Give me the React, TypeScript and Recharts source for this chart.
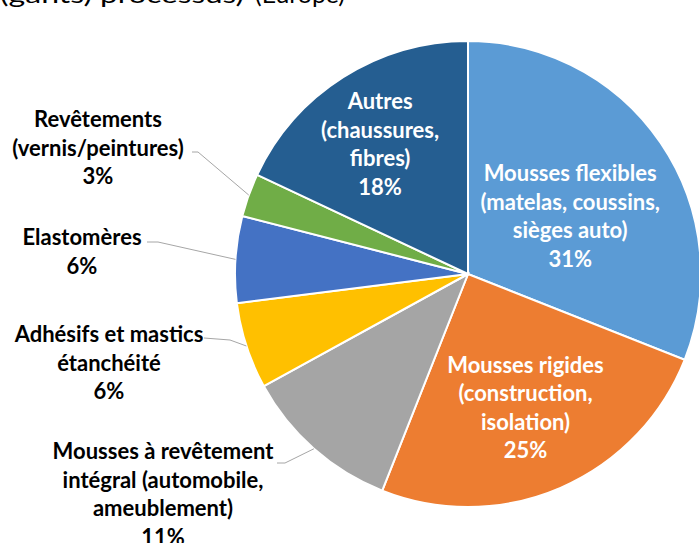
import React from 'react';
import { PieChart, Pie, Cell } from 'recharts';

const values = [31, 25, 11, 6, 6, 3, 18];
const labelLines = [
  ['Mousses flexibles', '(matelas, coussins,', 'sièges auto)'],
  ['Mousses rigides', '(construction,', 'isolation)'],
  ['Mousses à revêtement', 'intégral (automobile,', 'ameublement)'],
  ['Adhésifs et mastics', 'étanchéité'],
  ['Elastomères'],
  ['Revêtements', '(vernis/peintures)'],
  ['Autres', '(chaussures,', 'fibres)'],
];
const colors = ['#5B9BD5', '#ED7D31', '#A5A5A5', '#FFC000', '#4472C4', '#70AD47', '#255E91'];
// title is cut off by the top edge in the source, only its lower part shows
const titleParts = ['(gants)', 'processus)', '(Europe)'];

const W = 699;
const H = 543;
const FONT = 'Lato, "Open Sans", sans-serif';
const FS = 22;
const LH = 28.5;
const RADIAN = Math.PI / 180;

// inside labels: polar point at r * outerRadius, then nudged
// outside labels: text block centre x / first line y relative to the pie centre, with a leader line
const placement: any[] = [
  { inside: true, r: 0.52, dx: 2, dy: 9 },
  { inside: true, r: 0.6, dx: 2, dy: 4 },
  { inside: false, dx: -305, dy: 176, elbow: [-183, 189], end: [-191, 189] },
  { inside: false, dx: -359, dy: 59, elbow: [-238, 66], end: [-264, 64] },
  { inside: false, dx: -386, dy: -38, elbow: [-310, -32], end: [-321, -32] },
  { inside: false, dx: -370, dy: -156, elbow: [-270, -122], end: [-276, -122] },
  { inside: true, r: 0.68, dx: -3, dy: 3 },
];

const renderLabel = (props: any) => {
  const { cx, cy, midAngle, outerRadius, index, value } = props;
  const p = placement[index];
  const lines = [...labelLines[index], `${value}%`];
  if (p.inside) {
    const r = outerRadius * p.r;
    const x = cx + r * Math.cos(-midAngle * RADIAN) + p.dx;
    const y = cy + r * Math.sin(-midAngle * RADIAN) + p.dy;
    const y0 = y - ((lines.length - 1) * LH) / 2;
    return (
      <text x={x} y={y0} fill="#fff" textAnchor="middle" dominantBaseline="central" fontFamily={FONT} fontWeight={700} fontSize={FS}>
        {lines.map((l, i) => (
          <tspan key={i} x={x} y={y0 + i * LH}>{l}</tspan>
        ))}
      </text>
    );
  }
  const sx = cx + outerRadius * Math.cos(-midAngle * RADIAN);
  const sy = cy + outerRadius * Math.sin(-midAngle * RADIAN);
  const x = cx + p.dx;
  const y0 = cy + p.dy;
  return (
    <g>
      <polyline
        points={`${sx},${sy} ${cx + p.elbow[0]},${cy + p.elbow[1]} ${cx + p.end[0]},${cy + p.end[1]}`}
        fill="none"
        stroke="#A6A6A6"
        strokeWidth={1}
      />
      <text x={x} y={y0} fill="#000" textAnchor="middle" dominantBaseline="central" fontFamily={FONT} fontWeight={700} fontSize={FS}>
        {lines.map((l, i) => (
          <tspan key={i} x={x} y={y0 + i * LH}>{l}</tspan>
        ))}
      </text>
    </g>
  );
};

export default function App() {
  const data = values.map((v, i) => ({ name: labelLines[i].join(' '), value: v }));
  return (
    <div style={{ width: W, height: H, background: '#fff', overflow: 'hidden' }}>
      <style>{'html, body { margin: 0; padding: 0; overflow: hidden; }'}</style>
      <PieChart width={W} height={H} margin={{ top: 0, right: 0, bottom: 0, left: 0 }}>
        <text y={3} fontFamily={FONT} fontSize={23} fill="#000">
          <tspan x={0} textLength={92} lengthAdjust="spacingAndGlyphs">{titleParts[0]}</tspan>
          <tspan x={100} textLength={144} lengthAdjust="spacingAndGlyphs">{titleParts[1]}</tspan>
          <tspan x={255} textLength={90} lengthAdjust="spacingAndGlyphs">{titleParts[2]}</tspan>
        </text>
        <Pie
          data={data}
          dataKey="value"
          cx={468}
          cy={274}
          outerRadius={233}
          startAngle={90}
          endAngle={-270}
          stroke="#fff"
          strokeWidth={2}
          label={renderLabel}
          labelLine={false}
          isAnimationActive={false}
        >
          {values.map((_, i) => (
            <Cell key={i} fill={colors[i]} />
          ))}
        </Pie>
      </PieChart>
    </div>
  );
}
